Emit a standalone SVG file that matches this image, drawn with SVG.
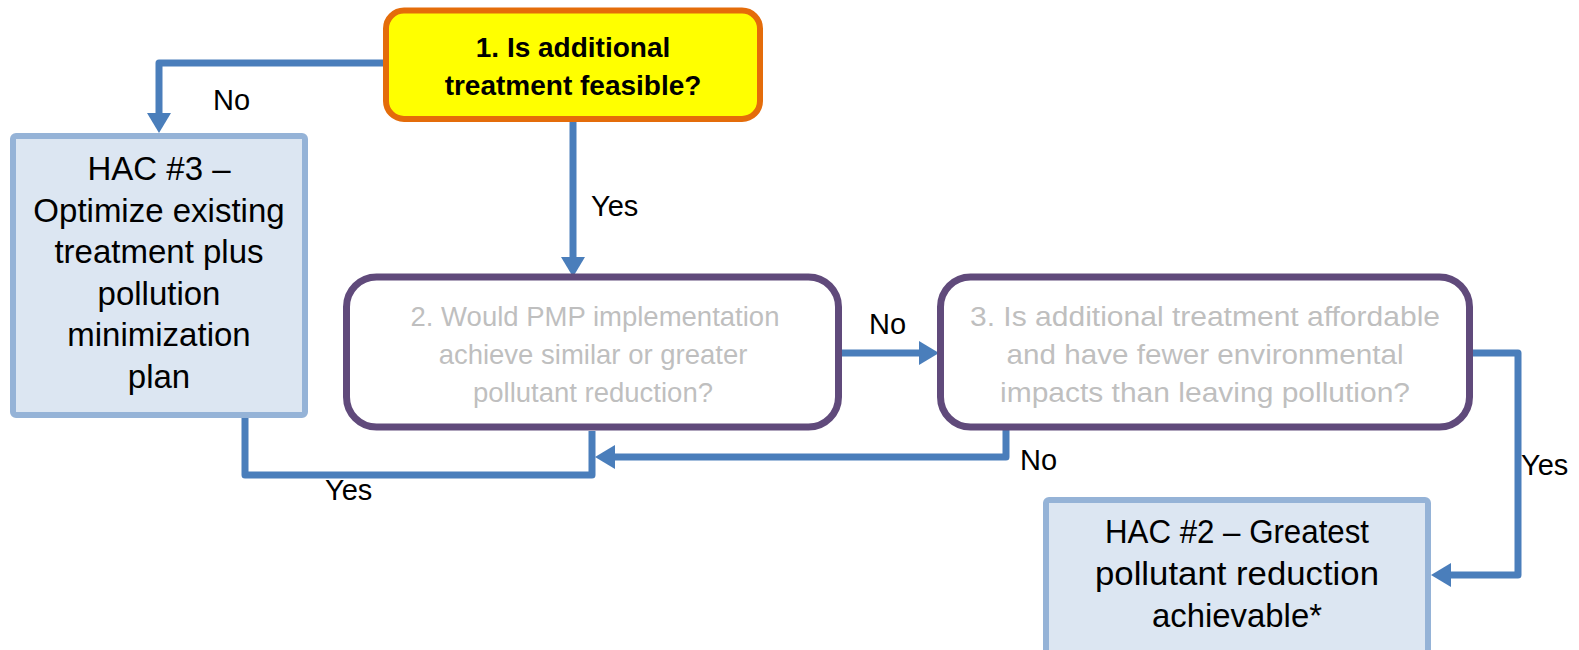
<svg xmlns="http://www.w3.org/2000/svg" width="1579" height="650" viewBox="0 0 1579 650">
<style>
.t{font-family:"Liberation Sans",Arial,sans-serif;text-anchor:middle}
.lbl{font-family:"Liberation Sans",Arial,sans-serif;font-size:29px;fill:#000}
.hac{fill:#DCE6F2;stroke:#95B3D7;stroke-width:6}
.q{fill:#FFFFFF;stroke:#604A7B;stroke-width:7}
.qt{font-size:27.5px;fill:#BFBFBF}
.ht{font-size:33px;fill:#000}
.conn{fill:none;stroke:#4A7EBB;stroke-width:7;stroke-linejoin:round}
</style>
<defs>
<marker id="ah" viewBox="0 0 20 24" refX="0" refY="12" markerWidth="20" markerHeight="24" markerUnits="userSpaceOnUse" orient="auto">
<path d="M0,0 L20,12 L0,24 z" fill="#4A7EBB"/>
</marker>
</defs>
<rect width="1579" height="650" fill="#FFFFFF"/>
<g id="connectors">
<path class="conn" d="M384,63 H159 V113" marker-end="url(#ah)"/>
<path class="conn" d="M573,122 V257" marker-end="url(#ah)"/>
<path class="conn" d="M842,353 H919" marker-end="url(#ah)"/>
<path class="conn" d="M245,418 V475 H592 V431"/>
<path class="conn" d="M1006,424 V457 H615" marker-end="url(#ah)"/>
<path class="conn" d="M1470,353 H1518 V575 H1451" marker-end="url(#ah)"/>
<text class="lbl" x="213" y="110">No</text>
<text class="lbl" x="591" y="216">Yes</text>
<text class="lbl" x="869" y="334">No</text>
<text class="lbl" x="325" y="500">Yes</text>
<text class="lbl" x="1020" y="470">No</text>
<text class="lbl" x="1521" y="475">Yes</text>
</g>
<g id="node1">
<rect x="386" y="10.5" width="374" height="108.5" rx="18" fill="#FFFF00" stroke="#E46C0A" stroke-width="6"/>
<text class="t" x="573" y="57" font-size="28" font-weight="bold" fill="#000">1. Is additional</text>
<text class="t" x="573" y="95" font-size="28" font-weight="bold" fill="#000">treatment feasible?</text>
</g>
<g id="hac3">
<rect class="hac" x="13" y="136" width="292" height="279" rx="3"/>
<text class="t ht" x="159" y="180">HAC #3 –</text>
<text class="t ht" x="159" y="222">Optimize existing</text>
<text class="t ht" x="159" y="263">treatment plus</text>
<text class="t ht" x="159" y="305">pollution</text>
<text class="t ht" x="159" y="346">minimization</text>
<text class="t ht" x="159" y="388">plan</text>
</g>
<g id="node2">
<rect class="q" x="346.5" y="277" width="492" height="150" rx="30"/>
<text class="t qt" x="595" y="326">2. Would PMP implementation</text>
<text class="t qt" x="593" y="364">achieve similar or greater</text>
<text class="t qt" x="593" y="402">pollutant reduction?</text>
</g>
<g id="node3">
<rect class="q" x="940.5" y="277" width="529" height="150" rx="30"/>
<text class="t qt" x="1205" y="326" textLength="470" lengthAdjust="spacingAndGlyphs">3. Is additional treatment affordable</text>
<text class="t qt" x="1205" y="364" textLength="397" lengthAdjust="spacingAndGlyphs">and have fewer environmental</text>
<text class="t qt" x="1205" y="402" textLength="410" lengthAdjust="spacingAndGlyphs">impacts than leaving pollution?</text>
</g>
<g id="hac2">
<rect class="hac" x="1046" y="500" width="382" height="200" rx="3"/>
<text class="t ht" x="1237" y="543" textLength="264" lengthAdjust="spacingAndGlyphs">HAC #2 – Greatest</text>
<text class="t ht" x="1237" y="585" textLength="284" lengthAdjust="spacingAndGlyphs">pollutant reduction</text>
<text class="t ht" x="1237" y="627" textLength="170" lengthAdjust="spacingAndGlyphs">achievable*</text>
</g>
</svg>
